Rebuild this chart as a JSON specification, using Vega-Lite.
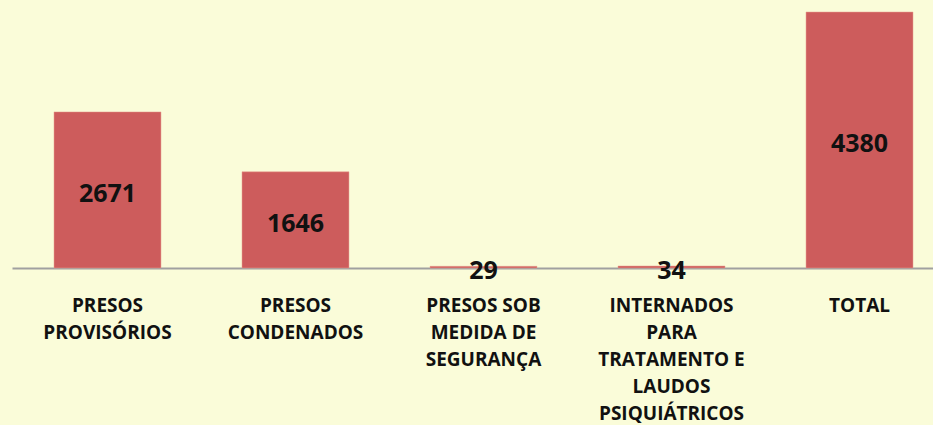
{
  "$schema": "https://vega.github.io/schema/vega-lite/v6.json",
  "width": 943,
  "height": 256,
  "autosize": {"type": "none"},
  "padding": {"left": 12, "top": 12, "right": 0, "bottom": 157},
  "background": "#FAFCD9",
  "config": {"view": {"stroke": null}, "font": "Open Sans"},
  "data": {
    "values": [
      {"categoria": "PRESOS\nPROVISÓRIOS", "valor": 2671},
      {"categoria": "PRESOS\nCONDENADOS", "valor": 1646},
      {"categoria": "PRESOS SOB\nMEDIDA DE\nSEGURANÇA", "valor": 29},
      {"categoria": "INTERNADOS\nPARA\nTRATAMENTO E\nLAUDOS\nPSIQUIÁTRICOS", "valor": 34},
      {"categoria": "TOTAL", "valor": 4380}
    ]
  },
  "encoding": {
    "x": {
      "field": "categoria",
      "type": "nominal",
      "sort": null,
      "scale": {"paddingInner": 0.431, "paddingOuter": 0.2234},
      "axis": {
        "title": null,
        "labelAngle": 0,
        "labelExpr": "split(datum.value, '\\n')",
        "labelFont": "Open Sans",
        "labelFontWeight": "bold",
        "labelFontSize": 19,
        "labelColor": "#111111",
        "labelLineHeight": 27,
        "labelPadding": 37,
        "labelBaseline": "middle",
        "labelLimit": 300,
        "ticks": false,
        "domainColor": "#A0A0A0",
        "domainWidth": 2
      }
    }
  },
  "layer": [
    {
      "mark": {"type": "bar", "color": "#CD5C5C", "stroke": "#E8A090", "strokeWidth": 0.5},
      "encoding": {
        "y": {
          "field": "valor",
          "type": "quantitative",
          "scale": {"domain": [0, 4380], "nice": false},
          "axis": null
        }
      }
    },
    {
      "transform": [{"calculate": "datum.valor / 2", "as": "meio"}],
      "mark": {"type": "text", "font": "Open Sans", "fontWeight": "bold", "fontSize": 25, "color": "#111111", "baseline": "middle", "dy": 4},
      "encoding": {
        "y": {"field": "meio", "type": "quantitative", "scale": {"domain": [0, 4380], "nice": false}},
        "text": {"field": "valor", "type": "quantitative"}
      }
    }
  ]
}
